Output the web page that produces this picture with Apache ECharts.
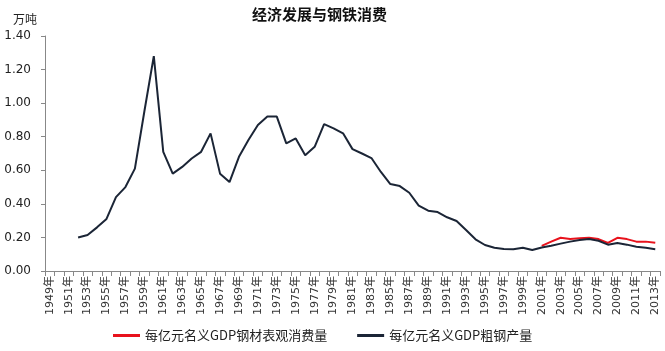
<!DOCTYPE html>
<html>
<head>
<meta charset="utf-8">
<script src="https://cdn.jsdelivr.net/npm/echarts@6/dist/echarts.min.js"></script>
<style>
  html, body { margin: 0; padding: 0; background: #fff; }
  #main { width: 665px; height: 351px; }
</style>
</head>
<body>
<div id="main"></div>
<script>
// 年份 1949-2013
var years = [];
for (var y = 1949; y <= 2013; y++) { years.push(y + '年'); }

// 每亿元名义GDP钢材表观消费量（2001年起）
var steelUse = [
  null, null, null, null, null, null, null, null, null, null,   // 1949-1958
  null, null, null, null, null, null, null, null, null, null,   // 1959-1968
  null, null, null, null, null, null, null, null, null, null,   // 1969-1978
  null, null, null, null, null, null, null, null, null, null,   // 1979-1988
  null, null, null, null, null, null, null, null, null, null,   // 1989-1998
  null, null,                                                   // 1999-2000
  0.15, 0.175, 0.198, 0.19, 0.195, 0.198, 0.19, 0.167, 0.198, 0.19, 0.175, 0.175, 0.168 // 2001-2013
];

// 每亿元名义GDP粗钢产量（1952年起）
var crudeSteel = [
  null, null, null,                                             // 1949-1951
  0.20, 0.215, 0.26, 0.31, 0.44, 0.50, 0.61,                    // 1952-1958
  0.95, 1.28, 0.71, 0.58, 0.62, 0.67, 0.71, 0.82, 0.58, 0.53,   // 1959-1968
  0.68, 0.78, 0.87, 0.92, 0.92, 0.76, 0.79, 0.69, 0.74, 0.875,  // 1969-1978
  0.85, 0.82, 0.726, 0.70, 0.673, 0.59, 0.518, 0.506, 0.466, 0.39, // 1979-1988
  0.359, 0.351, 0.32, 0.298, 0.244, 0.189, 0.155, 0.139, 0.131, 0.13, // 1989-1998
  0.139, 0.125, 0.14, 0.15, 0.163, 0.175, 0.185, 0.19, 0.18, 0.157,   // 1999-2008
  0.167, 0.157, 0.145, 0.138, 0.13                              // 2009-2013
];

var fontCN = '"Noto Sans CJK SC", sans-serif';
var fontNum = '"DejaVu Sans", "Noto Sans CJK SC", sans-serif';

var myChart = echarts.init(document.getElementById('main'));
var option = {
  animation: false,
  backgroundColor: '#fff',
  title: {
    text: '经济发展与钢铁消费',
    left: 247,
    top: 2,
    textStyle: { fontFamily: fontCN, fontSize: 15, fontWeight: 'bold', color: '#111' }
  },
  legend: {
    bottom: 4,
    left: 108,
    itemGap: 30,
    itemWidth: 27,
    itemHeight: 3,
    icon: 'rect',
    textStyle: { fontFamily: fontCN, fontSize: 13, color: '#222' },
    data: ['每亿元名义GDP钢材表观消费量', '每亿元名义GDP粗钢产量']
  },
  grid: { left: 45, right: 5, top: 36, bottom: 80 },
  xAxis: {
    type: 'category',
    data: years,
    boundaryGap: true,
    axisLine: { lineStyle: { color: '#888', width: 1 } },
    axisTick: { show: true, interval: 0, length: 5, lineStyle: { color: '#888' } },
    axisLabel: {
      interval: 1,
      rotate: 90,
      margin: 5,
      fontFamily: fontNum,
      fontSize: 11,
      color: '#333'
    }
  },
  yAxis: {
    type: 'value',
    min: 0,
    max: 1.4,
    interval: 0.2,
    name: '万吨',
    nameLocation: 'end',
    nameGap: 11,
    nameTextStyle: { fontFamily: fontCN, fontSize: 12, color: '#222', align: 'right', padding: [0, 8, 0, 0] },
    splitLine: { show: false },
    axisLine: { show: true, lineStyle: { color: '#888', width: 1 } },
    axisTick: { show: true, length: 4, lineStyle: { color: '#888' } },
    axisLabel: {
      formatter: function (v) { return v.toFixed(2); },
      margin: 14,
      fontFamily: fontNum,
      fontSize: 12,
      color: '#222'
    }
  },
  series: [
    {
      name: '每亿元名义GDP钢材表观消费量',
      type: 'line',
      data: steelUse,
      symbol: 'none',
      connectNulls: false,
      itemStyle: { color: '#e8121c' },
      lineStyle: { color: '#e8121c', width: 2 }
    },
    {
      name: '每亿元名义GDP粗钢产量',
      type: 'line',
      data: crudeSteel,
      symbol: 'none',
      connectNulls: false,
      itemStyle: { color: '#1b2536' },
      lineStyle: { color: '#1b2536', width: 2 }
    }
  ]
};
myChart.setOption(option);
</script>
</body>
</html>
